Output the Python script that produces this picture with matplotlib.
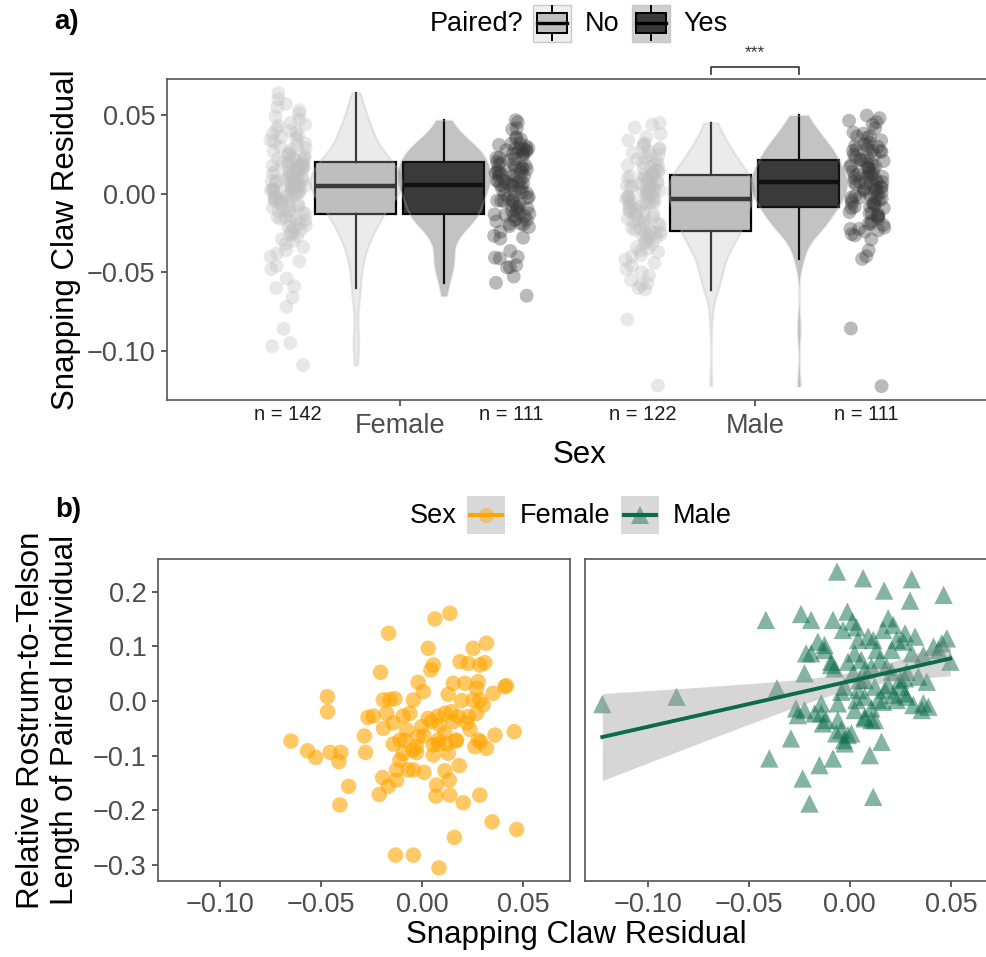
import numpy as np
import matplotlib.pyplot as plt
from matplotlib import mlab
from matplotlib.patches import Rectangle
from matplotlib.lines import Line2D
from matplotlib.transforms import blended_transform_factory

plt.rcParams['font.family'] = ['Liberation Sans', 'DejaVu Sans']

# ---- data -------------------------------------------------------------
sexes = ['Female', 'Male']
paired_levels = ['No', 'Yes']

female_unpaired_claw = [
    -0.109, -0.097, -0.095, -0.086, -0.072, -0.066, -0.060, -0.059, -0.054, -0.048,
    -0.046, -0.043, -0.040, -0.038, -0.036, -0.034, -0.032, -0.030, -0.029, -0.027,
    -0.026, -0.025, -0.024, -0.023, -0.022, -0.021, -0.020, -0.019, -0.018, -0.017,
    -0.017, -0.016, -0.015, -0.015, -0.014, -0.013,
    -0.012, -0.011, -0.011, -0.010, -0.009, -0.009, -0.008, -0.007, -0.007, -0.006,
    -0.005, -0.005, -0.004, -0.004, -0.003, -0.003, -0.002, -0.002, -0.001, -0.001,
    0.000, 0.000, 0.001, 0.001, 0.002, 0.002, 0.002, 0.003, 0.003, 0.003,
    0.004, 0.004, 0.004, 0.004, 0.005,
    0.005, 0.005, 0.006, 0.006, 0.007, 0.007, 0.008, 0.008, 0.008, 0.009,
    0.009, 0.010, 0.010, 0.011, 0.011, 0.012, 0.012, 0.013, 0.013, 0.014,
    0.014, 0.015, 0.015, 0.015, 0.016, 0.016, 0.017, 0.017, 0.017, 0.018,
    0.018, 0.019, 0.019, 0.019, 0.020,
    0.020, 0.021, 0.021, 0.022, 0.023, 0.023, 0.024, 0.025, 0.025, 0.026,
    0.027, 0.028, 0.029, 0.030, 0.031, 0.032, 0.033, 0.034, 0.035, 0.036,
    0.037, 0.038, 0.039, 0.040, 0.041, 0.043, 0.044, 0.045, 0.047, 0.049,
    0.051, 0.053, 0.055, 0.057, 0.060, 0.064,
]
male_unpaired_claw = [
    -0.122, -0.080, -0.061, -0.060, -0.058, -0.057, -0.055, -0.052, -0.050, -0.048,
    -0.046, -0.044, -0.042, -0.040, -0.039, -0.037, -0.036, -0.035, -0.034, -0.032,
    -0.031, -0.030, -0.029, -0.028, -0.027, -0.027, -0.026, -0.025, -0.025, -0.024,
    -0.024,
    -0.023, -0.022, -0.022, -0.021, -0.020, -0.019, -0.019, -0.018, -0.017, -0.016,
    -0.016, -0.015, -0.014, -0.013, -0.013, -0.012, -0.011, -0.011, -0.010, -0.009,
    -0.009, -0.008, -0.007, -0.007, -0.006, -0.006, -0.005, -0.005, -0.004, -0.004,
    -0.003, -0.003, -0.002, -0.002, -0.001, -0.001, 0.000, 0.000, 0.001, 0.001,
    0.002, 0.002, 0.003, 0.003, 0.004, 0.004, 0.005, 0.005, 0.006, 0.006,
    0.007, 0.007, 0.008, 0.008, 0.009, 0.009, 0.010, 0.010, 0.011, 0.011,
    0.012, 0.012, 0.013, 0.013, 0.014, 0.015, 0.015, 0.016, 0.017, 0.018,
    0.018, 0.019, 0.020, 0.021, 0.022, 0.023, 0.024, 0.025, 0.026, 0.027,
    0.028, 0.029, 0.030, 0.031, 0.032, 0.034, 0.036, 0.038, 0.042, 0.044,
    0.045,
]

# paired animals: claw residual (x) and partner's relative length (y)
female_claw = [
    -0.0649, -0.0567, -0.0527, -0.0469, -0.0468, -0.0455, -0.0412, -0.0402, -0.0364, -0.0407,
    -0.0286, -0.0280, -0.0268, -0.0242, -0.0206, -0.0166, -0.0192, -0.0159, -0.0135, -0.0192,
    -0.0143, -0.0094, -0.0061, -0.0143, -0.0085, -0.0110, -0.0127, -0.0196, -0.0168, -0.0212,
    -0.0127, -0.0047, -0.0028, -0.0044, 0.0009, -0.0020, 0.0005, -0.0044, 0.0030, 0.0063,
    0.0137, 0.0055, 0.0043, -0.0003, 0.0009, 0.0046, 0.0079, 0.0112, 0.0145, 0.0079,
    0.0079, 0.0055, 0.0129, 0.0167, 0.0183, 0.0112, 0.0134, 0.0071, 0.0068, 0.0137,
    0.0203, 0.0159, -0.0132, -0.0044, 0.0083, 0.0285, 0.0346, 0.0467, 0.0455, 0.0360,
    0.0318, 0.0261, 0.0289, 0.0236, 0.0220, 0.0228, 0.0269, 0.0195, 0.0129, 0.0154,
    0.0211, 0.0277, 0.0285, 0.0302, 0.0351, 0.0409, 0.0417, 0.0187, 0.0228, 0.0285,
    0.0310, 0.0252, 0.0318, 0.0170, 0.0087, 0.0154, 0.0112, -0.0028, -0.0077, -0.0069,
    -0.0176, 0.0269, 0.0252, 0.0055, 0.0178, 0.0277, -0.0020, 0.0030, -0.0094, 0.0121,
    -0.0110,
]
female_length = [
    -0.0733, -0.0910, -0.1030, 0.0079, -0.0195, -0.0940, -0.1110, -0.0940, -0.1560, -0.1900,
    -0.0640, -0.0940, -0.0300, -0.0275, 0.0524, 0.1238, 0.0018, 0.0030, 0.0040, -0.0500,
    -0.0400, -0.0275, -0.0226, -0.0787, -0.0714, -0.1080, -0.1260, -0.1400, -0.1560, -0.1710,
    -0.1446, -0.0898, -0.0945, -0.1260, -0.1305, 0.0341, 0.0170, 0.0018, 0.0963, 0.1500,
    0.1604, 0.0658, 0.0567, -0.0470, -0.0640, -0.0378, -0.0275, -0.0226, -0.0195, -0.0714,
    -0.0787, -0.0988, -0.0957, -0.0733, -0.1180, -0.1275, -0.1446, -0.1537, -0.1738, -0.1720,
    -0.1860, -0.2494, -0.2817, -0.2817, -0.3050, -0.1720, -0.2208, -0.2348, -0.0561, -0.0622,
    -0.0866, -0.0836, -0.0745, -0.0519, -0.0397, -0.0287, -0.0226, 0.0006, 0.0122, 0.0323,
    0.0323, 0.0354, 0.0018, -0.0073, 0.0140, 0.0262, 0.0280, 0.0719, 0.0689, 0.0658,
    0.0700, 0.0963, 0.1055, -0.0714, -0.0440, -0.0378, -0.0590, -0.0836, -0.0530, -0.1260,
    -0.0226, 0.0231, 0.0018, -0.0805, -0.0287, -0.0714, -0.0650, -0.0317, -0.0957, -0.0775,
    -0.0714,
]
male_claw = [
    -0.1224, -0.0857, -0.0360, -0.0415, -0.0241, -0.0191, -0.0083, -0.0063, 0.0066, 0.0170,
    0.0306, 0.0298, 0.0464, -0.0012, 0.0033, -0.0034, 0.0013, 0.0190, 0.0215, 0.0091,
    0.0165, 0.0273, 0.0323, 0.0480, 0.0439, 0.0497, -0.0216, -0.0158, -0.0125, -0.0092,
    -0.0075, -0.0224, 0.0024, 0.0057, 0.0132, 0.0207, 0.0265, 0.0306, 0.0364, 0.0381,
    0.0182, 0.0107, 0.0016, -0.0025, 0.0074, 0.0124, 0.0190, 0.0248, 0.0273, 0.0074,
    0.0140, 0.0232, 0.0314, 0.0364, 0.0389, 0.0165, 0.0033, -0.0059, -0.0141, -0.0266,
    -0.0257, -0.0141, -0.0117, -0.0059, -0.0042, -0.0009, -0.0029, 0.0074, 0.0124, -0.0291,
    -0.0398, -0.0233, -0.0199, -0.0150, -0.0083, 0.0099, 0.0157, 0.0116, -0.0224, 0.0024,
    0.0207, 0.0339, 0.0248, 0.0041, 0.0116, 0.0232, -0.0125, -0.0191, -0.0092, -0.0009,
    0.0074, 0.0281, 0.0414, 0.0455, 0.0174, 0.0041, -0.0042, 0.0107, 0.0356, -0.0067,
    -0.0025, 0.0008, -0.0133, 0.0107, 0.0273, 0.0215, 0.0149, 0.0049, 0.0074, 0.0281,
    -0.0174,
]
male_length = [
    -0.0056, 0.0079, 0.0231, 0.1482, 0.1591, 0.1482, 0.1482, 0.2366, 0.2244, 0.2018,
    0.2226, 0.1835, 0.1939, 0.1634, 0.1347, 0.1299, 0.1451, 0.1512, 0.1390, 0.1177,
    0.1299, 0.1238, 0.1177, 0.1146, 0.0933, 0.0719, 0.0872, 0.1085, 0.0933, 0.0719,
    0.0597, 0.0506, 0.0872, 0.0750, 0.0933, 0.0933, 0.1085, 0.0872, 0.0842, 0.0353,
    0.0628, 0.0628, 0.0506, 0.0262, 0.0384, 0.0262, 0.0292, 0.0262, 0.0414, 0.0079,
    0.0018, 0.0018, -0.0074, -0.0043, -0.0104, -0.0013, 0.0018, -0.0043, -0.0043, -0.0135,
    -0.0257, -0.0226, -0.0348, -0.0348, -0.0531, -0.0623, -0.0714, -0.0318, -0.0348, -0.0684,
    -0.1050, -0.1416, -0.1874, -0.1172, -0.1050, -0.0989, -0.0745, -0.1752, -0.0165, -0.0165,
    0.0536, 0.0445, 0.0384, 0.1116, 0.1116, 0.1116, 0.1024, 0.0872, 0.0658, 0.0719,
    0.0567, 0.0536, 0.0994, 0.1055, 0.0201, 0.0201, 0.0170, -0.0135, -0.0165, -0.0592,
    -0.0775, -0.0592, -0.0409, -0.0348, 0.0140, 0.0109, 0.0750, 0.0384, -0.0287, 0.0079,
    -0.0226,
]

a_ticks = [-0.10, -0.05, 0.00, 0.05]
b_yticks = [-0.3, -0.2, -0.1, 0.0, 0.1, 0.2]
b_xticks = [-0.10, -0.05, 0.00, 0.05]
signif_label = '***'

# ---- style ------------------------------------------------------------
W, H = 987, 957
fill = {'No': '#BEBEBE', 'Yes': '#3A3A3A'}
orange = '#FFA500'
green = '#0B6B4B'
spine_col = '#555555'
tick_col = '#4D4D4D'
TICK_FS = 19.5
TITLE_FS = 22.5


def fx(px):
    return px / W


def fy(py):
    return 1 - py / H


def minus_fmt(v, nd):
    return f"{v:.{nd}f}".replace('-', '\u2212')


def style_axes(ax):
    for s in ax.spines.values():
        s.set_color(spine_col)
        s.set_linewidth(1.2)
    ax.tick_params(length=4.5, width=1.1, color='#333333', labelcolor=tick_col,
                   labelsize=TICK_FS, pad=3.5)


def jitter_offsets(n, amount=0.05):
    # deterministic scatter of horizontal offsets (hash of the index)
    k = np.arange(1, n + 1)
    u = np.abs(np.sin(k * 12.9898) * 43758.5453) % 1.0
    return (u * 2 - 1) * amount


def nrd0_factor(d):
    d = np.asarray(d)
    sd = d.std(ddof=1)
    iqr = np.subtract(*np.percentile(d, [75, 25]))
    return 0.9 * min(sd, iqr / 1.34) * len(d) ** -0.2 / sd


fig = plt.figure(figsize=(W / 100, H / 100), dpi=100)

# ---- panel a ----------------------------------------------------------
ax = fig.add_axes([fx(166.7), fy(400), fx(988) - fx(166.7), (400 - 79) / H])
ax.set_xlim(0.343, 2.657)
ax.set_ylim(-0.1312, 0.0729)

group_data = {
    ('Female', 'No'): female_unpaired_claw,
    ('Female', 'Yes'): female_claw,
    ('Male', 'No'): male_unpaired_claw,
    ('Male', 'Yes'): male_claw,
}
dodge = 0.124
jit_pos = 0.315

# violin widths scaled by area (common density scale)
kdes = {}
for key, d in group_data.items():
    d = np.asarray(d)
    bw = nrd0_factor(d)
    grid = np.linspace(d.min(), d.max(), 200)
    kdes[key] = (bw, mlab.GaussianKDE(d, bw).evaluate(grid).max())
global_max = max(v[1] for v in kdes.values())

blend = blended_transform_factory(ax.transData, ax.transAxes)
for i, sex in enumerate(sexes):
    centre = i + 1
    for j, lvl in enumerate(paired_levels):
        d = np.asarray(group_data[(sex, lvl)])
        sign = -1 if lvl == 'No' else 1
        # jittered raw points
        ax.scatter(centre + sign * jit_pos + jitter_offsets(len(d)), d, s=100,
                   color=fill[lvl], alpha=0.35, edgecolors='none', zorder=1)
        ax.text(centre + sign * jit_pos, -0.045, f"n = {len(d)}", transform=blend,
                ha='center', va='center', fontsize=14.5, color='#1A1A1A', clip_on=False)
        pos = centre + sign * dodge
        ax.boxplot(d, positions=[pos], widths=0.228, patch_artist=True,
                   showfliers=False, showcaps=False, manage_ticks=False,
                   boxprops=dict(facecolor=fill[lvl], edgecolor='black', linewidth=1.6),
                   medianprops=dict(color='black', linewidth=3.2),
                   whiskerprops=dict(color='black', linewidth=1.6), zorder=2)
        bw, peak = kdes[(sex, lvl)]
        vp = ax.violinplot(d, positions=[pos], widths=0.27 * peak / global_max,
                           showextrema=False, bw_method=bw, points=200)
        for body in vp['bodies']:
            rgb = plt.matplotlib.colors.to_rgb(fill[lvl])
            body.set_facecolor((*rgb, 0.25))
            body.set_edgecolor('#B8B8B8')
            body.set_linewidth(1.6)
            body.set_zorder(3)

ax.set_xticks([1, 2])
ax.set_xticklabels(sexes)
ax.set_yticks(a_ticks)
ax.set_yticklabels([minus_fmt(v, 2) for v in a_ticks])
style_axes(ax)
ax.tick_params(axis='x', pad=5)

# significance bracket for Male No vs Yes
ax.add_line(Line2D([2 - dodge, 2 - dodge, 2 + dodge, 2 + dodge],
                   [1.016, 1.038, 1.038, 1.016], transform=blend,
                   color='#333333', lw=1.2, clip_on=False))
ax.text(2, 1.082, signif_label, transform=blend, ha='center', va='center',
        fontsize=12.5, color='#333333', clip_on=False)

fig.text(fx(66), fy(239.5), 'Snapping Claw Residual', rotation=90,
         ha='center', va='center', fontsize=TITLE_FS)
fig.text(fx(580), fy(455), 'Sex', ha='center', va='center', fontsize=TITLE_FS)
fig.text(fx(67), fy(22), 'a)', ha='center', va='center', fontsize=20, weight='bold')

# legend a
fig.text(fx(430), fy(24), 'Paired?', ha='left', va='center', fontsize=TICK_FS)
for lvl, x0, tx in [('No', 533, 585), ('Yes', 632, 683)]:
    rgb = plt.matplotlib.colors.to_rgb(fill[lvl])
    bg = tuple(1 - 0.25 * (1 - c) for c in rgb)
    fig.add_artist(Rectangle((fx(x0), fy(42)), fx(38), 37 / H, transform=fig.transFigure,
                             facecolor=bg, edgecolor='#C8C8C8', lw=1.0))
    fig.add_artist(Rectangle((fx(x0 + 4), fy(33)), fx(30), 20 / H, transform=fig.transFigure,
                             facecolor=fill[lvl], edgecolor='black', lw=1.4))
    fig.add_artist(Line2D([fx(x0 + 4), fx(x0 + 34)], [fy(23), fy(23)],
                          transform=fig.transFigure, color='black', lw=2.4))
    for ya, yb in [(6, 13), (33, 40)]:
        fig.add_artist(Line2D([fx(x0 + 19)] * 2, [fy(ya), fy(yb)],
                              transform=fig.transFigure, color='black', lw=1.4))
    fig.text(fx(tx), fy(24), lvl, ha='left', va='center', fontsize=TICK_FS)

# ---- panel b ----------------------------------------------------------
b_xlim = (-0.1308, 0.0731)
b_ylim = (-0.329, 0.259)
ax_f = fig.add_axes([fx(157.7), fy(881), fx(570) - fx(157.7), (881 - 559.3) / H])
ax_m = fig.add_axes([fx(585.3), fy(881), fx(570) - fx(157.7), (881 - 559.3) / H])

ax_f.scatter(female_claw, female_length, s=125, color=orange, alpha=0.6,
             edgecolors='none')
ax_m.scatter(male_claw, male_length, s=175, marker='^', color=green, alpha=0.5,
             edgecolors='none')

# linear fit with 95% band for males
mx = np.asarray(male_claw)
my = np.asarray(male_length)
slope, intercept = np.polyfit(mx, my, 1)
xs = np.linspace(mx.min(), mx.max(), 80)
fit = intercept + slope * xs
n = len(mx)
resid = my - (intercept + slope * mx)
s_err = np.sqrt(np.sum(resid ** 2) / (n - 2))
se = s_err * np.sqrt(1 / n + (xs - mx.mean()) ** 2 / np.sum((mx - mx.mean()) ** 2))
t_crit = 1.982
ax_m.fill_between(xs, fit - t_crit * se, fit + t_crit * se, color='#999999',
                  alpha=0.4, lw=0, zorder=3)
ax_m.plot(xs, fit, color=green, lw=2.8, zorder=4)

for a in (ax_f, ax_m):
    a.set_xlim(*b_xlim)
    a.set_ylim(*b_ylim)
    a.set_xticks(b_xticks)
    a.set_xticklabels([minus_fmt(v, 2) for v in b_xticks])
    style_axes(a)
ax_f.set_yticks(b_yticks)
ax_f.set_yticklabels([minus_fmt(v, 1) for v in b_yticks])
ax_m.set_yticks([])

fig.text(fx(48), fy(720), 'Relative Rostrum-to-Telson\nLength of Paired Individual',
         rotation=90, ha='center', va='center', fontsize=TITLE_FS,
         multialignment='center', linespacing=1.2)
fig.text(fx(576), fy(935), 'Snapping Claw Residual', ha='center', va='center',
         fontsize=TITLE_FS)
fig.text(fx(68), fy(510), 'b)', ha='center', va='center', fontsize=20, weight='bold')

# legend b
fig.text(fx(410), fy(516), 'Sex', ha='left', va='center', fontsize=TICK_FS)
for label, x0, tx, col, mk, ms in [('Female', 467, 520, orange, 'o', 11),
                                   ('Male', 621, 673, green, '^', 13)]:
    fig.add_artist(Rectangle((fx(x0), fy(534)), fx(38), 38 / H, transform=fig.transFigure,
                             facecolor='#D9D9D9', edgecolor='none'))
    fig.add_artist(Line2D([fx(x0 + 19)], [fy(515)], transform=fig.transFigure,
                          marker=mk, markersize=ms, color=col, alpha=0.45, lw=0,
                          markeredgewidth=0))
    fig.add_artist(Line2D([fx(x0 + 3), fx(x0 + 35)], [fy(515), fy(515)],
                          transform=fig.transFigure, color=col, lw=3))
    fig.text(fx(tx), fy(516), label, ha='left', va='center', fontsize=TICK_FS)

fig.savefig('out.png', dpi=100)
